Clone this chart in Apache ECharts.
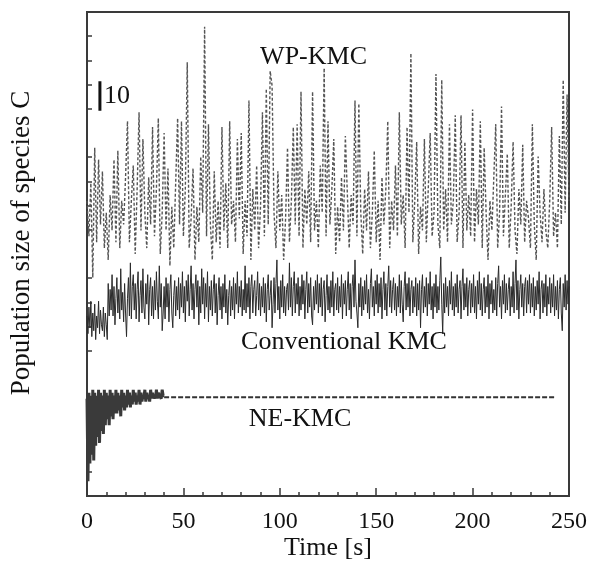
<!DOCTYPE html>
<html><head><meta charset="utf-8">
<script src="https://cdn.jsdelivr.net/npm/echarts@6/dist/echarts.min.js"></script>
<style>html,body{margin:0;padding:0;background:#fff}#c{width:596px;height:561px}</style>
</head><body><div id="c"></div>
<script>
// ---- data ----
const wpStep = 1;      // s between WP-KMC samples
const wpValues = [
100,88,106,74,118,86,114,92,110,84,
96,80,102,90,114,86,117,84,100,92,
108,127,86,100,112,82,104,130,90,121,
96,84,108,92,125,88,104,128,82,96,
123,90,111,78,98,84,106,128,92,127,
88,104,147,84,94,111,80,98,86,115,
96,159,88,126,92,80,110,86,100,84,
125,90,106,84,127,92,100,86,121,94,
123,82,100,88,134,80,104,90,112,84,
98,130,88,138,92,144,139,96,84,110,
90,102,80,94,118,86,100,125,92,126,
88,137,84,104,92,110,86,137,90,100,
84,112,96,145,88,127,92,104,121,82,
98,86,108,90,122,122,84,102,92,134,
88,133,96,82,104,90,110,84,96,117,
86,100,80,108,92,104,127,84,100,90,
112,88,130,92,102,84,125,96,150,86,
100,120,82,98,90,121,86,104,123,88,
96,143,92,84,141,90,104,86,126,92,
100,129,86,96,129,84,120,90,102,88,
131,86,104,92,127,84,118,96,80,100,
90,108,126,84,96,132,88,102,116,84,
98,120,90,82,104,92,119,86,100,94,
84,126,92,80,115,96,86,104,90,84,
100,125,88,96,84,122,92,141,96,136,
100];

const convStep = 0.5;  // s between Conventional KMC samples
const convValues = [
61,55,64,57,66,54,62,56,65,53,61,57,66,55,63,58,56,64,54,62,
58,53,72,61,70,63,75,61,71,58,67,74,62,70,60,77,63,69,59,72,
62,54,67,74,61,79,60,71,75,63,72,60,70,76,59,68,73,62,77,64,
60,72,65,75,58,70,74,61,71,60,73,63,76,66,60,78,64,72,56,62,
71,60,74,64,72,59,70,75,62,57,68,73,61,71,63,74,60,72,64,76,
62,71,59,73,66,75,61,70,78,63,72,60,70,75,64,73,58,71,62,77,
65,74,60,72,64,76,59,71,63,73,61,70,75,62,72,58,68,74,63,71,
60,72,64,75,62,70,58,68,73,61,71,63,74,60,72,65,76,62,71,64,
73,61,70,63,78,62,72,64,74,60,71,75,62,70,73,61,68,76,63,72,
61,71,64,74,62,72,59,70,75,63,68,73,57,65,74,62,72,80,63,71,
60,73,64,75,62,71,61,70,72,63,79,64,74,61,71,76,62,72,65,74,
61,71,63,75,65,73,60,70,76,62,72,64,74,61,58,71,63,73,65,75,
62,72,64,74,61,70,73,59,68,75,63,71,62,73,64,76,61,70,72,63,
74,62,71,64,75,60,72,65,73,61,70,76,63,72,60,71,75,64,80,66,
62,57,72,64,74,61,71,63,73,65,75,62,70,60,72,77,64,71,61,73,
65,75,62,72,64,74,60,70,76,63,72,61,71,78,64,73,62,70,74,63,
72,61,71,64,75,62,73,65,59,71,76,63,72,64,74,61,70,73,62,71,
64,74,61,72,63,73,57,70,75,62,71,64,74,61,72,65,76,63,71,60,
72,64,75,62,71,63,73,81,65,55,72,62,74,64,71,61,73,65,76,63,
71,61,72,64,75,62,70,73,60,71,77,63,72,64,74,61,70,73,62,72,
64,75,62,71,60,73,65,76,63,72,61,70,74,62,71,64,75,60,72,65,
73,62,70,63,74,61,72,78,64,71,60,73,65,75,62,72,63,70,74,61,
71,64,76,62,72,80,63,73,60,70,75,64,72,61,71,74,62,73,65,75,
62,72,64,74,61,71,63,73,65,76,60,70,73,62,72,64,75,61,71,65,
74,62,72,64,75,61,71,63,73,60,70,74,62,56,72,64,75,63,73,65,
71];

const neStep = 0.5;    // s between NE-KMC transient samples
const neTransient = [
33,5,35,11,34,14,36,12,35,17,
34,20,36,18,35,22,34,21,36,24,
35,26,34,24,36,27,35,26,34,28,
36,28,35,29,34,27,36,30,35,29,
34,30,36,31,35,30,34,31,36,32,
35,31,34,32,36,31,35,32,34,33,
36,32,35,33,34,32,36,33,35,33,
34,33,36,33,35,34,34,33,36,34,
34];
const neSteadyTimes = [40, 243];
const neSteadyValue = 33.5;

const xTickStep = 50;
const scaleBarTime = 6.7;
const scaleBarRange = [130.5, 140.5];   // 10 population units
const scaleBarText = '10';
const labelNames = ['WP-KMC', 'Conventional KMC', 'NE-KMC'];
const labelTimes = [117.5, 133.3, 110.5];
const labelValues = [148.8, 52.2, 26.1];

// ---- chart ----
const FONT = '"Liberation Serif", "Times New Roman", serif';
const pairs = (vals, step) => vals.map((v, i) => [i * step, v]);
const chart = echarts.init(document.getElementById('c'));
const option = {
  animation: false,
  backgroundColor: '#fff',
  grid: {left: 87, right: 27, top: 12, bottom: 65, show: true, borderColor: '#3a3a3a', borderWidth: 2,
         containLabel: false, outerBoundsMode: 'none'},
  xAxis: {
    type: 'value', min: 0, max: 250, interval: xTickStep,
    axisLine: {show: true, lineStyle: {color: '#3a3a3a', width: 2}},
    axisTick: {show: true, inside: true, length: 8, lineStyle: {color: '#3a3a3a', width: 1.5}},
    minorTick: {show: true, splitNumber: 5, length: 4, lineStyle: {color: '#3a3a3a', width: 1.5}},
    splitLine: {show: false},
    axisLabel: {color: '#111', fontFamily: FONT, fontSize: 24, margin: 14},
    name: 'Time [s]', nameLocation: 'middle', nameGap: 39, nameMoveOverlap: false,
    nameTextStyle: {color: '#111', fontFamily: FONT, fontSize: 26}
  },
  yAxis: {
    type: 'value', min: 0, max: 164, interval: 41,
    axisLine: {show: true, lineStyle: {color: '#3a3a3a', width: 2}},
    axisTick: {show: false, inside: true},
    minorTick: {show: true, splitNumber: 5, length: 5, lineStyle: {color: '#3a3a3a', width: 1.5}},
    splitLine: {show: false},
    axisLabel: {show: false}
  },
  series: [
    {type: 'line', name: 'WP-KMC', data: pairs(wpValues, wpStep), showSymbol: false, symbol: 'none',
     lineStyle: {color: '#555', width: 1.4, type: [3, 2]}, z: 2},
    {type: 'line', name: 'Conventional KMC', data: pairs(convValues, convStep), showSymbol: false, symbol: 'none',
     lineStyle: {color: '#2a2a2a', width: 1}, z: 3},
    {type: 'line', name: 'NE-KMC', data: pairs(neTransient, neStep), showSymbol: false, symbol: 'none',
     lineStyle: {color: '#3a3a3a', width: 3}, z: 4},
    {type: 'line', name: 'NE-KMC steady', data: neSteadyTimes.map(t => [t, neSteadyValue]), showSymbol: false, symbol: 'none',
     lineStyle: {color: '#333', width: 2, type: [5, 2]}, z: 4},
    {type: 'line', name: 'scale', data: scaleBarRange.map(v => [scaleBarTime, v]), showSymbol: false, symbol: 'none',
     lineStyle: {color: '#111', width: 3}, z: 5}
  ]
};
chart.setOption(option);

// text annotations placed through the chart's own scales
const toPx = (t, v) => chart.convertToPixel({gridIndex: 0}, [t, v]);
const textStyle = (text, size, align) => ({text: text, fill: '#111', font: size + 'px ' + FONT,
  align: align, verticalAlign: 'middle', textAlign: align, textVerticalAlign: 'middle'});
const graphics = [{
  type: 'text', x: 22, y: 243, rotation: Math.PI / 2, z: 10,
  style: textStyle('Population size of species C', 27, 'center')
}];
const sb = toPx(scaleBarTime, (scaleBarRange[0] + scaleBarRange[1]) / 2);
graphics.push({type: 'text', x: sb[0] + 4, y: sb[1], z: 10, style: textStyle(scaleBarText, 26, 'left')});
labelNames.forEach((n, i) => {
  const p = toPx(labelTimes[i], labelValues[i]);
  graphics.push({type: 'text', x: p[0], y: p[1], z: 10, style: textStyle(n, 26, 'center')});
});
chart.setOption({graphic: graphics});
</script></body></html>
